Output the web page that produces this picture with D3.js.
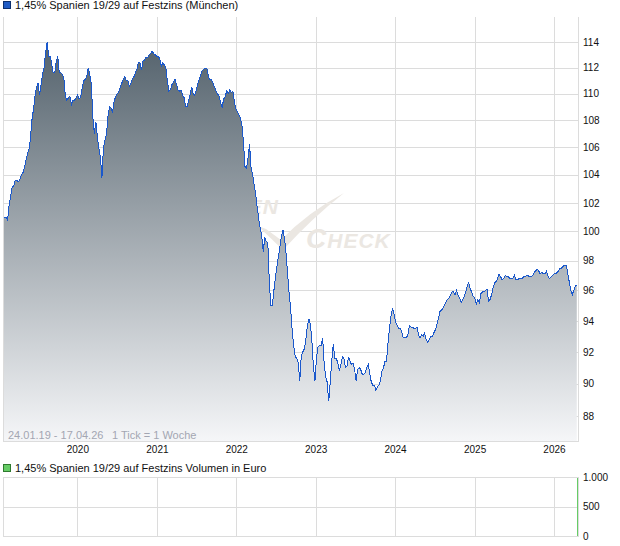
<!DOCTYPE html>
<html>
<head>
<meta charset="utf-8">
<script src="https://cdn.jsdelivr.net/npm/d3@7"></script>
<style>
  body { margin: 0; background: #fff; }
  svg { display: block; font-family: "Liberation Sans", Arial, sans-serif; }
</style>
</head>
<body>
<div id="chart"></div>
<script>
// weekly closing prices, 24.01.19 - 17.04.26
const startDate = new Date(2019, 0, 24);
const endDate = new Date(2026, 3, 17);
const prices = [
  101.0, 101.0, 101.0, 100.8, 101.8, 102.5, 103.1, 103.2, 103.6, 103.6,
  103.5, 103.6, 104.0, 104.1, 104.5, 105.0, 105.5, 105.8, 106.6, 108.0,
  108.8, 109.8, 110.5, 110.8, 109.9, 110.7, 111.5, 112.0, 113.2, 114.0,
  112.9, 112.9, 112.3, 111.6, 111.6, 112.5, 112.9, 111.6, 111.6, 111.5,
  111.2, 109.8, 109.5, 109.7, 109.8, 109.2, 109.5, 109.5, 109.7, 109.9,
  109.6, 109.7, 110.4, 111.0, 111.1, 111.3, 112.0, 111.5, 110.8, 108.3,
  107.0, 107.9, 106.8, 105.9, 105.3, 103.8, 106.0, 106.5, 107.0, 108.3,
  109.0, 108.9, 108.6, 109.4, 109.8, 110.0, 110.1, 110.5, 110.8, 111.1,
  111.3, 111.0, 111.0, 110.6, 110.8, 111.1, 111.3, 111.6, 111.9, 112.4,
  112.4, 111.8, 112.5, 112.6, 112.8, 112.8, 113.0, 113.1, 113.3, 113.1,
  113.0, 112.9, 112.9, 112.7, 112.1, 112.4, 112.2, 112.0, 111.0, 110.2,
  110.3, 110.7, 110.9, 111.1, 110.7, 110.3, 110.2, 110.3, 109.9, 109.7,
  109.0, 109.0, 109.5, 110.0, 110.5, 110.0, 109.9, 110.3, 110.8, 111.1,
  111.5, 111.8, 111.9, 111.9, 111.9, 111.3, 111.1, 111.1, 110.8, 110.5,
  110.2, 110.0, 109.8, 109.3, 109.0, 109.6, 109.8, 110.2, 110.0, 110.3,
  110.1, 110.2, 109.4, 108.9, 108.6, 108.4, 108.2, 107.6, 106.4, 104.6,
  104.5, 105.2, 106.2, 104.5, 104.0, 103.3, 102.6, 101.7, 100.9, 100.2,
  99.7, 98.6, 99.6, 99.3, 99.2, 96.5, 95.0, 95.0, 96.0, 96.9,
  97.6, 98.3, 99.0, 99.7, 100.1, 99.5, 98.5, 97.1, 95.8, 94.8,
  93.4, 92.4, 91.7, 91.6, 91.3, 90.2, 91.8, 92.0, 92.2, 92.8,
  93.7, 94.1, 93.8, 92.6, 91.0, 90.2, 91.7, 92.3, 92.4, 92.4,
  92.9, 91.3, 90.4, 90.1, 88.9, 90.1, 91.4, 92.5, 91.6, 91.6,
  91.3, 90.8, 91.2, 91.7, 91.6, 91.0, 91.1, 91.7, 91.4, 91.2,
  91.3, 90.9, 90.2, 90.9, 91.0, 90.9, 90.6, 90.6, 90.7, 91.0,
  91.2, 90.6, 90.1, 89.9, 89.9, 89.6, 89.8, 89.9, 90.2, 90.8,
  91.0, 91.4, 91.4, 92.6, 93.6, 94.4, 94.8, 94.4, 93.9, 93.7,
  93.5, 93.5, 93.3, 92.9, 92.9, 92.9, 93.1, 93.7, 93.6, 93.6,
  93.5, 93.5, 93.6, 93.1, 92.9, 93.1, 93.0, 93.2, 92.8, 92.6,
  92.8, 93.0, 93.0, 93.2, 93.4, 93.7, 94.1, 94.6, 94.7, 94.8,
  95.0, 95.2, 95.4, 95.5, 95.7, 95.9, 95.9, 95.7, 96.0, 95.7,
  95.5, 95.2, 95.4, 95.6, 95.9, 96.3, 96.5, 96.1, 95.9, 95.6,
  95.5, 95.1, 95.4, 95.2, 95.8, 95.9, 95.9, 96.0, 96.1, 95.3,
  95.4, 95.7, 96.2, 96.5, 96.6, 96.8, 97.1, 96.9, 96.7, 96.8,
  97.0, 96.9, 96.9, 96.8, 96.8, 96.8, 97.0, 96.7, 96.7, 96.8,
  96.8, 96.8, 96.9, 96.9, 97.0, 97.0, 96.9, 96.9, 97.0, 97.2,
  97.3, 97.4, 97.3, 97.1, 97.2, 97.1, 97.1, 97.3, 97.0, 96.8,
  96.9, 97.0, 97.1, 97.1, 97.2, 97.3, 97.5, 97.5, 97.6, 97.7,
  97.7, 97.2, 96.6, 96.0, 95.7, 96.0, 96.3, 96.3
];
const priceTicks = [88, 90, 92, 94, 96, 98, 100, 102, 104, 106, 108, 110, 112, 114];
const yearTicks = [2020, 2021, 2022, 2023, 2024, 2025, 2026];
const volumeTicks = [0, 500, 1000];

const titlePrice = "1,45% Spanien 19/29 auf Festzins (München)";
const titleVolume = "1,45% Spanien 19/29 auf Festzins Volumen in Euro";
const rangeText = "24.01.19 - 17.04.26";
const tickText = "1 Tick = 1 Woche";

const data = prices.map((v, i) => ({ date: d3.timeWeek.offset(startDate, i), value: v }));

const W = 620, H = 546;
const plot = { left: 3, right: 578, top: 17, bottom: 441 };
const vol = { top: 477, bottom: 536 };
const gridColor = "#dcdcdc";

const svg = d3.select("#chart").append("svg")
  .attr("width", W)
  .attr("height", H);

const x = d3.scaleTime()
  .domain([startDate, endDate])
  .range([plot.left, plot.right - 1]);

const y = d3.scaleLog()
  .domain([86.5, 116])
  .range([plot.bottom, plot.top]);

const yVol = d3.scaleLinear()
  .domain([0, 1000])
  .range([vol.bottom, vol.top]);

const yearDates = yearTicks.map(yr => new Date(yr, 0, 1));

// gradient for area
const defs = svg.append("defs");
const grad = defs.append("linearGradient")
  .attr("id", "fillGrad")
  .attr("gradientUnits", "userSpaceOnUse")
  .attr("x1", 0).attr("y1", plot.top)
  .attr("x2", 0).attr("y2", plot.bottom);
grad.append("stop").attr("offset", "0%").attr("stop-color", "#4a5964");
grad.append("stop").attr("offset", "100%").attr("stop-color", "#f5f6f8");

defs.append("clipPath").attr("id", "clipPlot")
  .append("rect")
  .attr("x", plot.left).attr("y", plot.top)
  .attr("width", plot.right - plot.left).attr("height", plot.bottom - plot.top);

// legends
function legend(yTop, color, stroke, label) {
  svg.append("rect")
    .attr("x", 3.5).attr("y", yTop + 0.5)
    .attr("width", 7).attr("height", 7)
    .attr("fill", color)
    .attr("stroke", stroke);
  svg.append("text")
    .attr("x", 15).attr("y", yTop + 8)
    .attr("font-size", "11px")
    .attr("fill", "#111")
    .text(label);
}
legend(1, "#1f5bc4", "#0b2f6e", titlePrice);
legend(464, "#66cc66", "#2f7a2f", titleVolume);

// ---------- price panel ----------
const gPlot = svg.append("g");

// grid
gPlot.append("g")
  .selectAll("line.h")
  .data(priceTicks)
  .join("line")
  .attr("x1", plot.left).attr("x2", plot.right)
  .attr("y1", d => Math.round(y(d)) + 0.5)
  .attr("y2", d => Math.round(y(d)) + 0.5)
  .attr("stroke", gridColor);

gPlot.append("g")
  .selectAll("line.v")
  .data(yearDates)
  .join("line")
  .attr("x1", d => Math.round(x(d)) + 0.5)
  .attr("x2", d => Math.round(x(d)) + 0.5)
  .attr("y1", plot.top).attr("y2", plot.bottom)
  .attr("stroke", gridColor);

// watermark
const wm = gPlot.append("g").attr("fill", "#ebe7e2");
wm.append("text")
  .attr("x", 279).attr("y", 214)
  .attr("text-anchor", "end")
  .attr("font-size", "21px")
  .attr("font-style", "italic")
  .attr("font-weight", "bold")
  .attr("letter-spacing", "1px")
  .text("FINANZEN");
const ck = wm.append("text")
  .attr("x", 306).attr("y", 248)
  .attr("font-style", "italic")
  .attr("font-weight", "bold")
  .attr("letter-spacing", "1px");
ck.append("tspan").attr("font-size", "28px").text("C");
ck.append("tspan").attr("font-size", "21px").text("HECK");
wm.append("path")
  .attr("d", "M258,226 L266,229 L281,240 Q308,212 344,193 Q312,218 283,250 Z");

// area + line
const area = d3.area()
  .x(d => x(d.date))
  .y0(plot.bottom)
  .y1(d => y(d.value));

const line = d3.line()
  .x(d => x(d.date))
  .y(d => y(d.value));

const gData = gPlot.append("g").attr("clip-path", "url(#clipPlot)");
gData.append("path")
  .datum(data)
  .attr("d", area)
  .attr("fill", "url(#fillGrad)");
gData.append("path")
  .datum(data)
  .attr("d", line)
  .attr("fill", "none")
  .attr("stroke", "#1a58cc")
  .attr("stroke-width", 1)
  .attr("shape-rendering", "crispEdges");

// borders
gPlot.append("line")
  .attr("x1", plot.left + 0.5).attr("x2", plot.left + 0.5)
  .attr("y1", plot.top).attr("y2", plot.bottom)
  .attr("stroke", gridColor);
gPlot.append("line")
  .attr("x1", plot.right + 0.5).attr("x2", plot.right + 0.5)
  .attr("y1", plot.top).attr("y2", plot.bottom + 1)
  .attr("stroke", gridColor);
gPlot.append("line")
  .attr("x1", plot.left).attr("x2", plot.right + 1)
  .attr("y1", plot.bottom + 0.5).attr("y2", plot.bottom + 0.5)
  .attr("stroke", gridColor);

// range text
svg.append("text")
  .attr("x", 8).attr("y", 439)
  .attr("font-size", "11px")
  .attr("fill", "#a3a6b2")
  .text(rangeText);
svg.append("text")
  .attr("x", 112).attr("y", 439)
  .attr("font-size", "11px")
  .attr("fill", "#a3a6b2")
  .text(tickText);

// y axis
const yAxis = d3.axisRight(y)
  .tickValues(priceTicks)
  .tickSize(0)
  .tickPadding(5)
  .tickFormat(d3.format("d"));
svg.append("g")
  .attr("transform", `translate(${plot.right},0)`)
  .call(yAxis)
  .call(g => g.select(".domain").remove())
  .call(g => g.selectAll("text")
    .attr("font-size", "10px")
    .attr("font-family", "Liberation Sans, Arial, sans-serif")
    .attr("fill", "#111"));

// x axis
const xAxis = d3.axisBottom(x)
  .tickValues(yearDates)
  .tickSize(0)
  .tickPadding(5)
  .tickFormat(d3.timeFormat("%Y"));
svg.append("g")
  .attr("transform", `translate(0,${plot.bottom})`)
  .call(xAxis)
  .call(g => g.select(".domain").remove())
  .call(g => g.selectAll("text")
    .attr("font-size", "10px")
    .attr("font-family", "Liberation Sans, Arial, sans-serif")
    .attr("fill", "#111"));

// ---------- volume panel ----------
const gVol = svg.append("g");
gVol.selectAll("line.hv")
  .data(volumeTicks)
  .join("line")
  .attr("x1", plot.left).attr("x2", plot.right)
  .attr("y1", d => Math.round(yVol(d)) + 0.5)
  .attr("y2", d => Math.round(yVol(d)) + 0.5)
  .attr("stroke", gridColor);
gVol.selectAll("line.vv")
  .data(yearDates)
  .join("line")
  .attr("x1", d => Math.round(x(d)) + 0.5)
  .attr("x2", d => Math.round(x(d)) + 0.5)
  .attr("y1", vol.top).attr("y2", vol.bottom)
  .attr("stroke", gridColor);
gVol.append("line")
  .attr("x1", plot.left + 0.5).attr("x2", plot.left + 0.5)
  .attr("y1", vol.top).attr("y2", vol.bottom)
  .attr("stroke", gridColor);
gVol.append("line")
  .attr("x1", plot.right + 0.5).attr("x2", plot.right + 0.5)
  .attr("y1", vol.top).attr("y2", vol.bottom + 1)
  .attr("stroke", gridColor);
gVol.append("line")
  .attr("x1", plot.right - 0.5).attr("x2", plot.right - 0.5)
  .attr("y1", vol.top + 1).attr("y2", vol.bottom)
  .attr("stroke", "#66cc66");

const de = d3.formatLocale({ decimal: ",", thousands: ".", grouping: [3], currency: ["", " €"] });
const volAxis = d3.axisRight(yVol)
  .tickValues(volumeTicks)
  .tickSize(0)
  .tickPadding(5)
  .tickFormat(de.format(",d"));
svg.append("g")
  .attr("transform", `translate(${plot.right},0)`)
  .call(volAxis)
  .call(g => g.select(".domain").remove())
  .call(g => g.selectAll("text")
    .attr("font-size", "10px")
    .attr("font-family", "Liberation Sans, Arial, sans-serif")
    .attr("fill", "#111"));
</script>
</body>
</html>
